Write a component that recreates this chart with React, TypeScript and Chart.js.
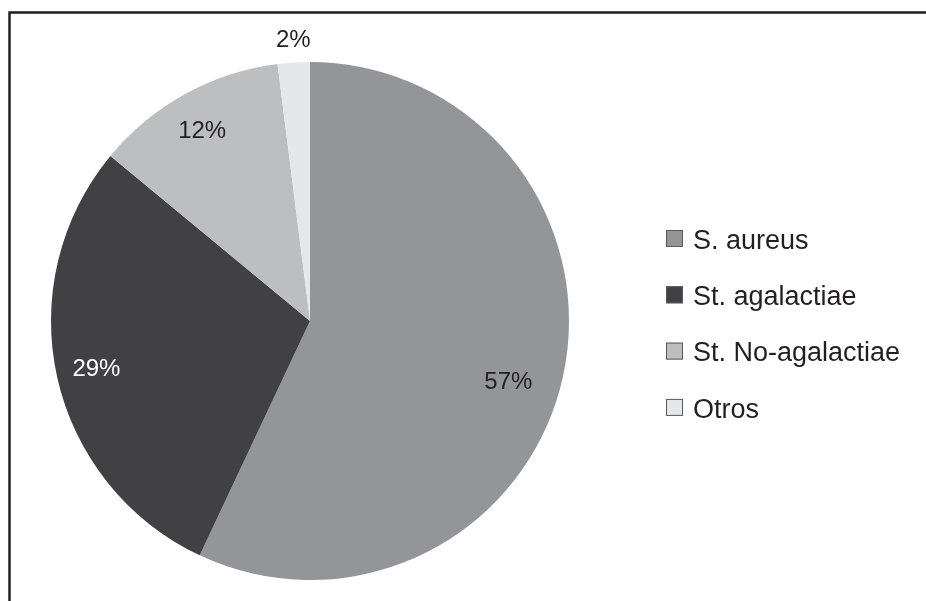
import React, { useEffect, useRef } from "react";
import { Chart, registerables } from "chart.js";

Chart.register(...registerables);

const categories = ["S. aureus", "St. agalactiae", "St. No-agalactiae", "Otros"];
const values = [57, 29, 12, 2];
const percentLabels = ["57%", "29%", "12%", "2%"];
const sliceColors = ["#939598", "#414042", "#bcbec0", "#e6e7e8"];
const labelColors = ["#231f20", "#ffffff", "#231f20", "#231f20"];

const FONT = '"Liberation Sans", Arial, sans-serif';

const framePlugin = {
  id: "frame",
  beforeDraw(chart: any) {
    const ctx = chart.ctx;
    ctx.save();
    ctx.strokeStyle = "#231f20";
    ctx.lineWidth = 2.5;
    ctx.beginPath();
    ctx.moveTo(9.5, chart.height);
    ctx.lineTo(9.5, 12.5);
    ctx.lineTo(chart.width, 12.5);
    ctx.stroke();
    ctx.restore();
  },
};

const sliceLabelPlugin = {
  id: "sliceLabels",
  afterDatasetsDraw(chart: any, _args: any, opts: any) {
    const ctx = chart.ctx;
    const meta = chart.getDatasetMeta(0);
    ctx.save();
    ctx.font = `24px ${FONT}`;
    ctx.textAlign = "center";
    ctx.textBaseline = "middle";
    meta.data.forEach((arc: any, i: number) => {
      const p = arc.getProps(["x", "y", "startAngle", "endAngle", "outerRadius"], true);
      const mid = (p.startAngle + p.endAngle) / 2;
      const r = p.outerRadius * opts.radial[i];
      const off = opts.offsets[i];
      const x = p.x + r * Math.cos(mid) + off[0];
      const y = p.y + r * Math.sin(mid) + off[1];
      ctx.fillStyle = labelColors[i];
      ctx.fillText(percentLabels[i], x, y);
    });
    ctx.restore();
  },
};

const sideLegendPlugin = {
  id: "sideLegend",
  afterDraw(chart: any, _args: any, opts: any) {
    const ctx = chart.ctx;
    const labels = chart.data.labels as string[];
    const colors = chart.data.datasets[0].backgroundColor as string[];
    ctx.save();
    ctx.font = `27px ${FONT}`;
    ctx.textAlign = "left";
    ctx.textBaseline = "alphabetic";
    labels.forEach((lab, i) => {
      const top = opts.top + i * opts.gap;
      ctx.fillStyle = colors[i];
      ctx.fillRect(opts.x, top, opts.box, opts.box);
      ctx.strokeStyle = "#58595b";
      ctx.lineWidth = 1;
      ctx.strokeRect(opts.x + 0.5, top + 0.5, opts.box - 1, opts.box - 1);
      ctx.fillStyle = "#231f20";
      ctx.fillText(lab, opts.textX, top + opts.box + 1.7);
    });
    ctx.restore();
  },
};

export default function App() {
  const ref = useRef<HTMLCanvasElement | null>(null);
  useEffect(() => {
    if (!ref.current) return;
    const chart = new Chart(ref.current, {
      type: "pie",
      data: {
        labels: categories,
        datasets: [
          {
            data: values,
            backgroundColor: sliceColors,
            borderWidth: 0,
          },
        ],
      },
      options: {
        animation: false,
        responsive: true,
        maintainAspectRatio: false,
        layout: { padding: { left: 50, top: 62, right: 356, bottom: 21 } },
        plugins: {
          legend: { display: false },
          tooltip: { enabled: false },
          sliceLabels: {
            radial: [0.84, 0.845, 0.84, 1.09],
            offsets: [[-14, 14], [0, 1], [-3, 1], [1, 1]],
          },
          sideLegend: { x: 666, top: 230, gap: 56.3, box: 17, textX: 693 },
        } as any,
      },
      plugins: [framePlugin, sliceLabelPlugin, sideLegendPlugin],
    });
    return () => chart.destroy();
  }, []);
  return (
    <div style={{ position: "fixed", left: 0, top: 0, width: 926, height: 601, background: "#fff" }}>
      <canvas ref={ref} />
    </div>
  );
}
